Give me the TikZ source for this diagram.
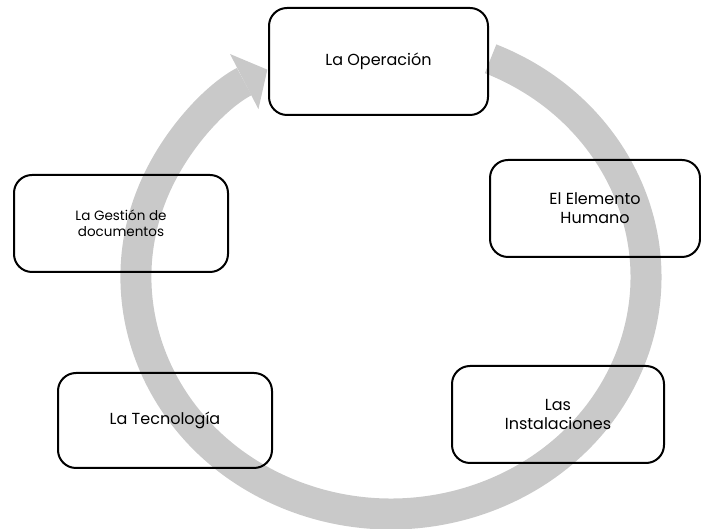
\documentclass[tikz,border=0pt]{standalone}
\usepackage{fontspec}
\setmainfont{Poppins}
\usetikzlibrary{arrows.meta}
\definecolor{grisanillo}{RGB}{201,201,201}
\tikzset{
  etapa/.style={draw=black, line width=2pt, rounded corners=18pt, align=center, inner sep=0pt, font=\fontsize{16}{19}\selectfont},
  anillo/.style={draw=grisanillo, line width=31pt, -{Triangle[width=62pt, length=26pt, line width=0pt]}}
}

\begin{document}
\begin{tikzpicture}[x=1pt, y=1pt]
\useasboundingbox (0, 0) rectangle (701, 529);
% anillo gris
\coordinate (inicio) at (490.6, 470.2);
\draw [anillo] (inicio) arc [start angle=67, end angle=-241, x radius=255, y radius=237];
% etapas
\node [etapa, minimum width=219pt, minimum height=107pt] (operacion) at (378.5, 467.5) {La Operación};
\node [etapa, minimum width=210pt, minimum height=97pt] (humano) at (595, 320.5) {El Elemento\\Humano};
\node [etapa, minimum width=212pt, minimum height=97pt] (instalaciones) at (558, 114.5) {Las\\Instalaciones};
\node [etapa, minimum width=214pt, minimum height=95pt] (tecnologia) at (165, 108.5) {La Tecnología};
\node [etapa, minimum width=214pt, minimum height=97pt, font=\fontsize{13.5}{16}\selectfont] (gestion) at (121, 305.5) {La Gestión de\\documentos};
\end{tikzpicture}
\end{document}
